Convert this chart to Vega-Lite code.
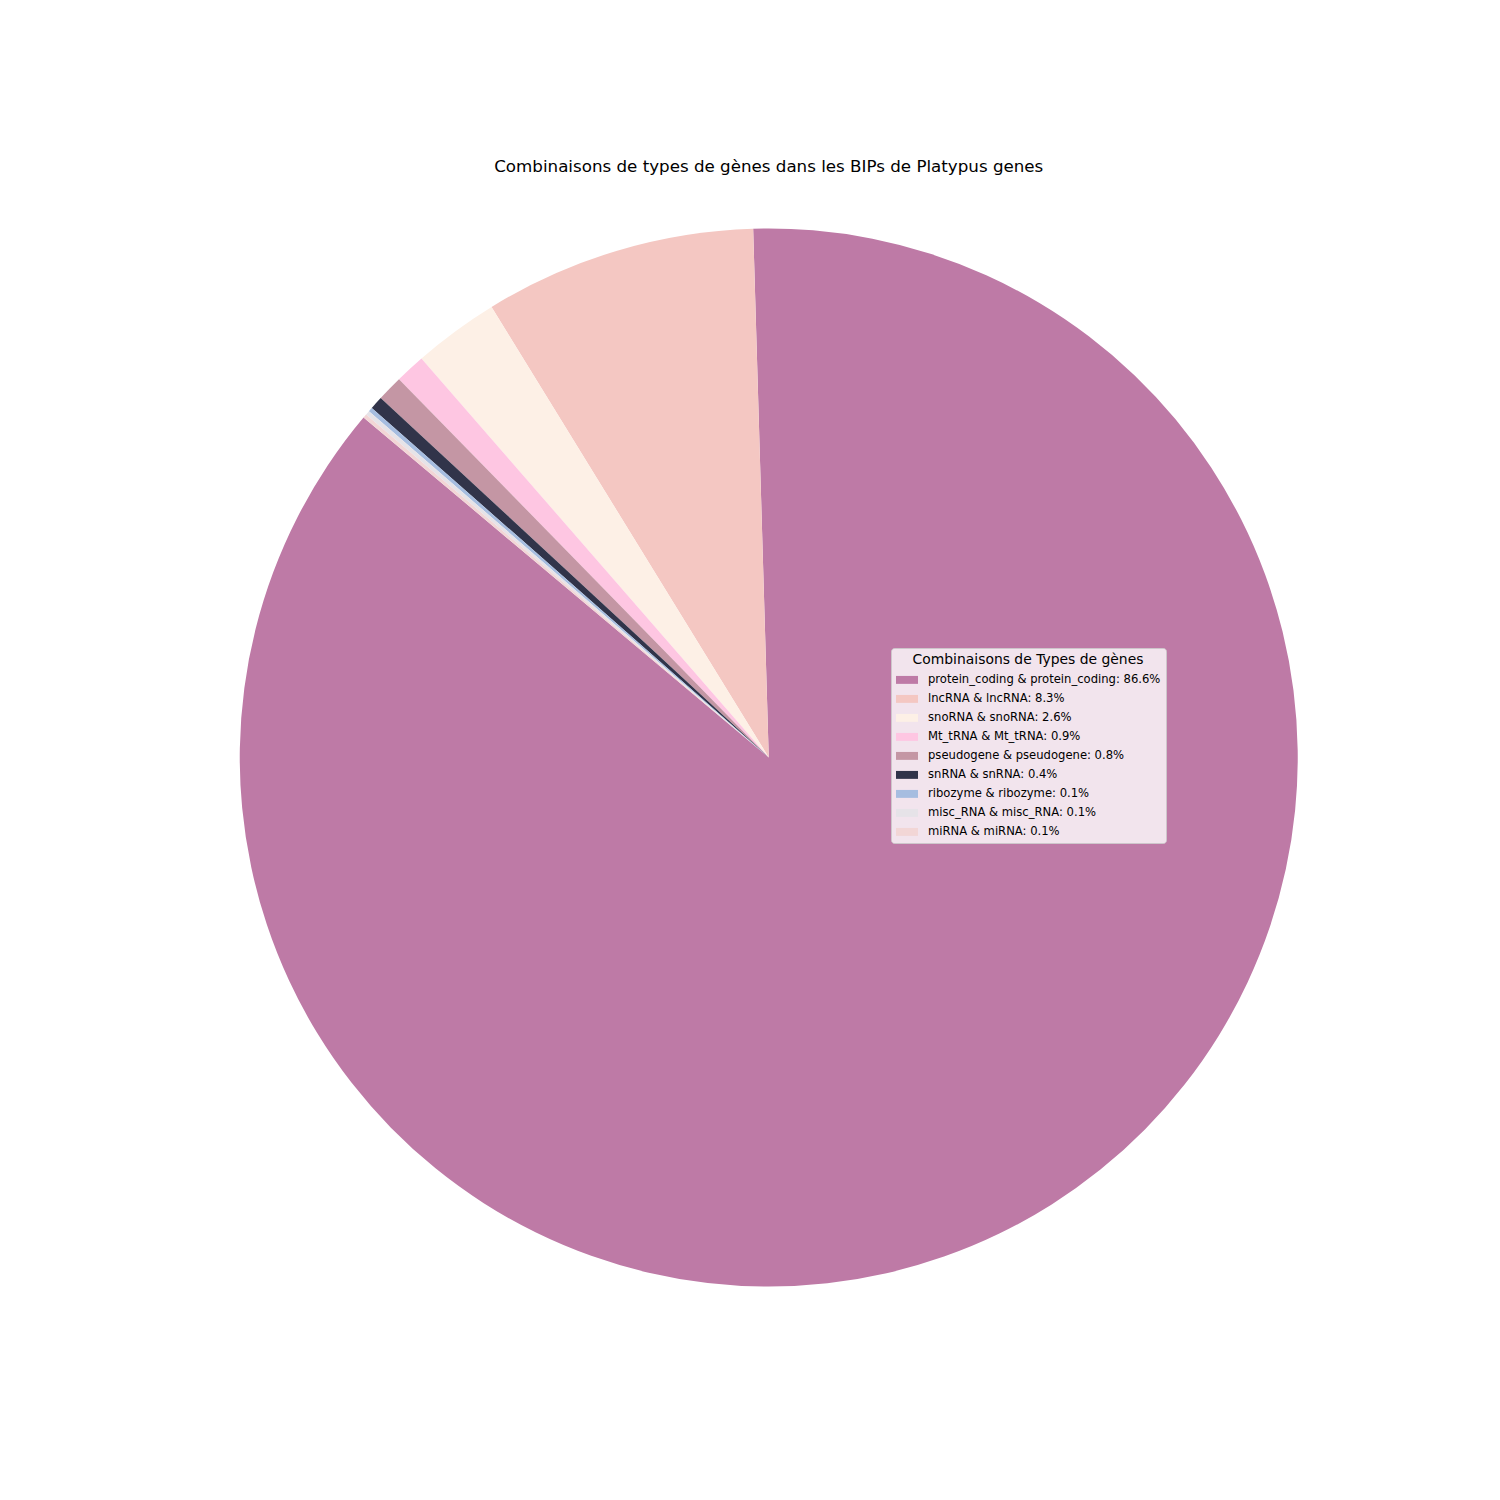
{
  "$schema": "https://vega.github.io/schema/vega-lite/v6.json",
  "width": 1162.5,
  "height": 1155,
  "autosize": {"type": "none"},
  "padding": {"left": 187.5, "top": 180, "right": 150, "bottom": 165},
  "background": "white",
  "title": {
    "text": "Combinaisons de types de gènes dans les BIPs de Platypus genes",
    "font": "DejaVu Sans",
    "fontSize": 16.7,
    "fontWeight": "normal",
    "color": "black",
    "anchor": "middle",
    "offset": 4
  },
  "data": {
    "values": [
      {"rank": 1, "label": "protein_coding & protein_coding: 86.6%", "pct": 86.58},
      {"rank": 2, "label": "lncRNA & lncRNA: 8.3%", "pct": 8.31},
      {"rank": 3, "label": "snoRNA & snoRNA: 2.6%", "pct": 2.62},
      {"rank": 4, "label": "Mt_tRNA & Mt_tRNA: 0.9%", "pct": 0.92},
      {"rank": 5, "label": "pseudogene & pseudogene: 0.8%", "pct": 0.79},
      {"rank": 6, "label": "snRNA & snRNA: 0.4%", "pct": 0.4},
      {"rank": 7, "label": "ribozyme & ribozyme: 0.1%", "pct": 0.13},
      {"rank": 8, "label": "misc_RNA & misc_RNA: 0.1%", "pct": 0.13},
      {"rank": 9, "label": "miRNA & miRNA: 0.1%", "pct": 0.12}
    ]
  },
  "mark": {"type": "arc", "outerRadius": 529},
  "encoding": {
    "theta": {
      "field": "pct",
      "type": "quantitative",
      "stack": true,
      "scale": {"range": [-0.87266, 5.41052]}
    },
    "order": {"field": "rank", "type": "quantitative", "sort": "descending"},
    "color": {
      "field": "label",
      "type": "nominal",
      "scale": {
        "domain": [
          "protein_coding & protein_coding: 86.6%",
          "lncRNA & lncRNA: 8.3%",
          "snoRNA & snoRNA: 2.6%",
          "Mt_tRNA & Mt_tRNA: 0.9%",
          "pseudogene & pseudogene: 0.8%",
          "snRNA & snRNA: 0.4%",
          "ribozyme & ribozyme: 0.1%",
          "misc_RNA & misc_RNA: 0.1%",
          "miRNA & miRNA: 0.1%"
        ],
        "range": ["#be7aa6", "#f4c7c2", "#fdf0e6", "#fec6e2", "#c496a4", "#31344a", "#a6bde0", "#e6e3e8", "#f2d6d6"]
      },
      "legend": {
        "title": "Combinaisons de Types de gènes",
        "orient": "none",
        "legendX": 703.5,
        "legendY": 468,
        "fillColor": "rgba(255,255,255,0.8)",
        "strokeColor": "rgba(204,204,204,0.8)",
        "cornerRadius": 3,
        "padding": 5,
        "titleFont": "DejaVu Sans",
        "titleFontSize": 13.9,
        "titleFontWeight": "normal",
        "titleColor": "black",
        "titleAnchor": "middle",
        "titleLimit": 400,
        "titlePadding": 2,
        "labelFont": "DejaVu Sans",
        "labelFontSize": 11.6,
        "labelColor": "black",
        "labelLimit": 400,
        "labelOffset": 10,
        "symbolType": "M-1,-0.36H1V0.36H-1Z",
        "symbolSize": 484,
        "symbolStrokeWidth": 0,
        "symbolOpacity": 1,
        "rowPadding": 2
      }
    }
  }
}
